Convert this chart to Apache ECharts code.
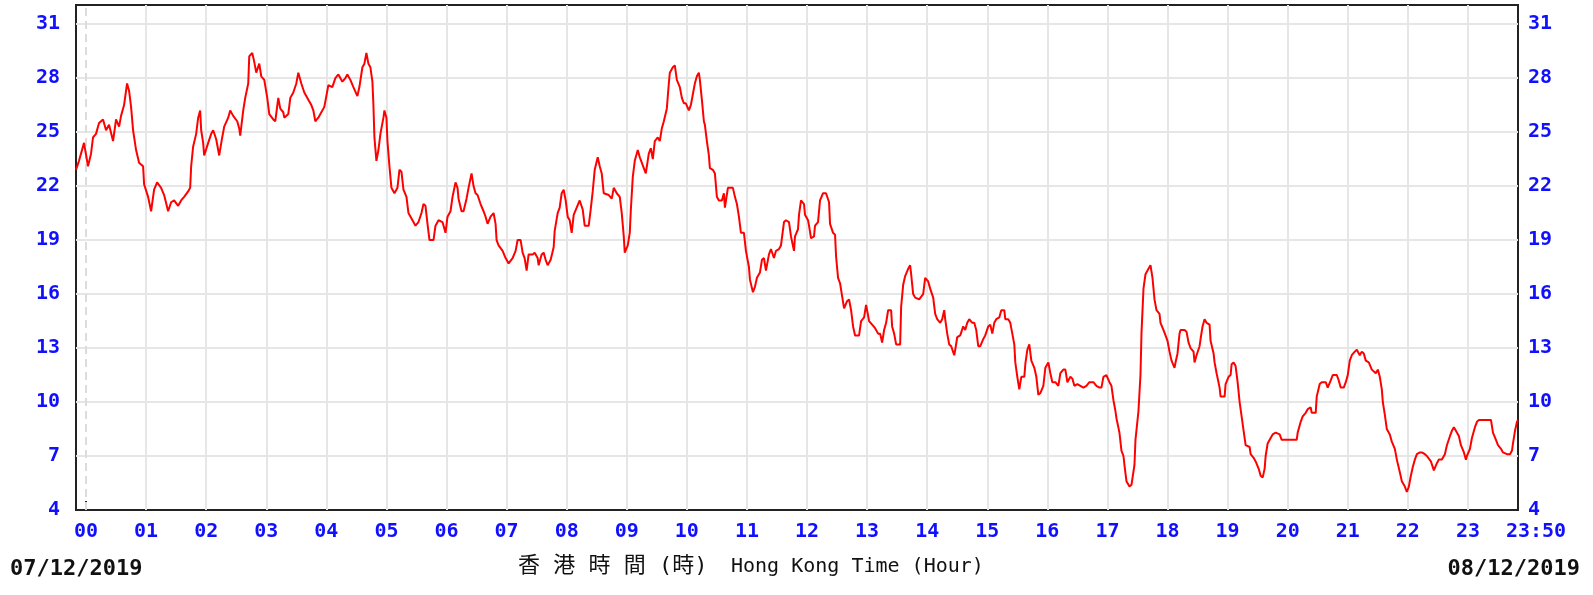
<!DOCTYPE html>
<html><head><meta charset="utf-8">
<script src="https://cdn.jsdelivr.net/npm/echarts@6/dist/echarts.min.js"></script>
<style>html,body{margin:0;padding:0;background:#fff}#c{width:1593px;height:595px}</style>
</head><body><div id="c"></div>
<script>
// minutes from 00:00 (07/12/2019)
const minutes = [-10,-7,-2,2,5,7,10,13,17,20,23,27,30,33,35,38,41,43,45,47,50,53,57,58,62,65,68,71,75,78,82,85,88,92,95,98,102,104,105,107,110,112,114,115,117,118,122,125,127,130,133,136,138,142,144,147,151,153,154,157,159,162,163,166,168,170,173,175,178,181,183,187,189,192,194,197,198,202,204,207,210,212,215,218,222,225,227,229,232,235,238,241,
242,246,249,252,256,259,261,264,267,271,273,276,278,280,282,284,286,287,288,290,292,294,297,298,300,301,303,305,308,311,313,315,317,320,322,326,329,332,335,337,339,341,343,347,349,352,356,359,361,364,366,369,371,372,375,377,380,382,385,387,389,391,394,397,399,401,404,407,409,410,412,416,419,422,426,429,431,434,436,438,440,442,446,448,451,452,455,457,459,461,464,467,468,471,473,475,477,479,481,
483,485,487,490,493,496,498,502,504,506,508,511,513,515,517,522,525,527,530,533,535,537,538,541,543,544,546,548,551,553,555,557,559,562,564,566,568,571,573,575,577,580,582,583,586,588,590,593,595,597,599,602,604,606,608,610,612,613,615,617,618,620,622,623,626,628,630,632,635,637,638,641,643,646,648,650,652,654,657,659,662,663,666,668,670,673,675,677,679,682,684,687,689,692,694,697,699,702,704,707,708,711,712,714,717,718,721,
722,724,727,728,731,733,736,739,742,743,746,748,749,751,753,755,757,760,762,764,766,768,772,774,777,779,782,785,788,791,793,795,797,799,801,804,805,807,809,813,814,816,818,821,823,824,826,828,832,833,836,838,841,843,846,848,850,853,855,857,858,860,862,864,867,868,870,873,876,878,880,882,885,887,889,891,893,896,898,901,903,905,907,909,912,914,917,918,921,923,925,927,928,930,932,934,937,938,940,942,944,947,949,951,953,956,958,961,
963,965,968,971,973,976,978,980,983,985,987,990,993,996,999,1002,1006,1009,1012,1014,1016,1019,1022,1024,1026,1028,1029,1032,1034,1036,1037,1039,1042,1044,1047,1048,1051,1053,1054,1056,1058,1061,1063,1065,1067,1069,1072,1073,1076,1078,1080,1082,1084,1087,1088,1090,1092,1093,1097,1099,1101,1103,1106,1107,1109,1112,1113,1115,1117,1119,1122,1123,1126,1127,1129,1132,1133,1137,1138,1141,1143,1144,1146,1148,1150,1152,1154,1156,1158,1162,1163,1166,1168,1171,1173,1175,1177,1178,1180,1183,1185,1188,1192,1194,1197,1201,
1203,1209,1210,1213,1215,1218,1220,1223,1224,1228,1229,1232,1234,1238,1240,1243,1245,1249,1251,1253,1256,1258,1260,1262,1264,1267,1269,1272,1274,1276,1278,1281,1284,1288,1290,1292,1294,1295,1297,1299,1302,1304,1307,1309,1312,1314,1317,1319,1321,1323,1325,1327,1329,1332,1334,1337,1339,1343,1346,1349,1351,1354,1357,1359,1362,1364,1366,1368,1371,1373,1376,1378,1379,1382,1384,1387,1389,1391,1396,1403,1405,1408,1410,1413,1415,1419,1422,1424,1425,1427,1429,1430];
const values = [22.9,23.4,24.4,23.1,23.8,24.7,24.9,25.5,25.7,25.1,25.4,24.5,25.7,25.3,25.9,26.5,27.7,27.3,26.4,25.1,24.0,23.3,23.1,22.1,21.4,20.6,21.8,22.2,21.9,21.5,20.6,21.1,21.2,20.9,21.2,21.4,21.7,21.9,23.1,24.2,24.9,25.8,26.2,25.1,24.4,23.7,24.4,24.9,25.1,24.6,23.7,24.7,25.3,25.8,26.2,25.9,25.6,25.2,24.8,26.2,26.9,27.7,29.2,29.4,28.9,28.3,28.8,28.1,27.9,26.9,26.0,25.7,25.6,26.9,26.3,26.1,25.8,26.0,26.9,27.2,27.7,28.3,27.7,27.2,26.8,26.5,26.2,25.6,25.8,26.1,26.4,27.3,
27.6,27.5,28.0,28.2,27.8,28.0,28.2,27.9,27.5,27.0,27.5,28.6,28.8,29.4,28.8,28.6,27.8,26.5,24.7,23.4,24.0,24.9,25.8,26.2,25.8,24.5,23.1,21.9,21.6,21.9,22.9,22.8,21.8,21.4,20.5,20.1,19.8,20.0,20.5,21.0,20.9,19.9,19.0,19.0,19.8,20.1,20.0,19.4,20.3,20.6,21.4,22.2,21.9,21.3,20.6,20.6,21.3,21.9,22.7,22.0,21.6,21.5,21.0,20.6,20.3,19.9,20.3,20.5,19.9,19.0,18.7,18.4,18.0,17.7,18.0,18.4,19.0,19.0,18.3,18.0,17.3,18.2,18.2,18.3,18.0,17.6,18.2,18.3,17.9,17.6,17.9,18.6,19.5,20.5,20.8,21.6,21.8,21.2,20.3,
20.1,19.4,20.4,20.8,21.2,20.7,19.8,19.8,20.7,21.7,22.9,23.6,23.1,22.7,21.6,21.5,21.3,21.9,21.6,21.4,20.5,19.2,18.3,18.7,19.4,20.6,22.5,23.4,24.0,23.6,23.3,23.0,22.7,23.8,24.1,23.5,24.5,24.7,24.5,25.2,25.6,26.3,27.7,28.3,28.6,28.7,27.9,27.5,26.9,26.6,26.6,26.2,26.5,27.1,27.7,28.1,28.3,27.9,26.8,25.6,25.4,24.5,23.7,23.0,22.9,22.7,21.4,21.2,21.2,21.6,20.8,21.9,21.9,21.9,21.4,21.0,20.3,19.4,19.4,18.4,17.5,16.8,16.1,16.4,16.9,17.2,17.9,18.0,17.3,18.2,18.5,18.0,18.4,18.5,18.7,20.0,20.1,20.0,19.2,18.4,19.2,19.6,20.4,21.2,21.0,20.4,20.1,
19.8,19.1,19.2,19.8,20.0,21.2,21.6,21.6,21.1,19.9,19.4,19.3,18.1,16.9,16.6,15.9,15.2,15.6,15.7,15.1,14.2,13.7,13.7,14.5,14.7,15.4,14.5,14.3,14.1,13.8,13.8,13.3,14.0,14.4,15.1,15.1,14.2,13.8,13.2,13.2,15.3,16.5,17.0,17.4,17.6,17.1,16.0,15.8,15.7,15.6,16.0,16.9,16.7,16.3,15.8,14.9,14.6,14.4,14.6,15.1,14.6,13.8,13.2,13.1,12.6,12.9,13.6,13.7,14.2,14.0,14.4,14.6,14.4,14.4,14.0,13.1,13.1,13.5,13.7,14.2,14.3,13.8,14.4,14.6,14.7,15.1,15.1,14.6,14.6,14.4,13.8,13.2,12.2,11.4,10.7,11.4,11.4,12.1,12.9,13.2,12.3,11.9,11.4,10.4,10.5,10.9,11.9,12.2,
11.6,11.1,11.1,10.9,11.6,11.8,11.8,11.1,11.4,11.3,10.9,11.0,10.9,10.8,10.9,11.1,11.1,10.9,10.8,10.8,11.4,11.5,11.1,10.9,10.1,9.5,9.1,8.3,7.3,7.0,6.5,5.6,5.3,5.4,6.5,7.9,9.5,11.5,13.8,16.3,17.1,17.4,17.6,16.9,15.7,15.1,14.9,14.4,14.0,13.7,13.4,12.8,12.3,11.9,12.2,12.7,13.8,14.0,14.0,13.9,13.3,13.0,12.8,12.2,12.6,13.1,13.5,14.2,14.6,14.4,14.3,13.4,12.7,12.2,11.6,10.8,10.3,10.3,11.0,11.4,11.5,12.1,12.2,12.0,11.1,10.0,9.2,8.4,7.6,7.5,7.1,6.9,6.7,6.3,5.9,5.8,6.3,7.0,7.7,8.0,8.2,8.3,8.2,7.9,7.9,7.9,
7.9,7.9,8.3,8.9,9.2,9.4,9.6,9.7,9.4,9.4,10.3,11.0,11.1,11.1,10.8,11.2,11.5,11.5,11.2,10.8,10.8,11.1,11.5,12.3,12.6,12.8,12.9,12.6,12.8,12.7,12.3,12.2,11.8,11.6,11.8,11.4,10.7,10.0,9.3,8.5,8.2,7.8,7.4,6.8,6.1,5.6,5.3,5.0,5.3,5.9,6.4,6.8,7.1,7.2,7.2,7.1,7.0,6.7,6.2,6.6,6.8,6.8,7.1,7.6,8.1,8.4,8.6,8.4,8.1,7.6,7.2,6.8,7.0,7.4,8.0,8.6,8.9,9.0,9.0,9.0,8.3,7.9,7.6,7.4,7.2,7.1,7.1,7.3,7.7,8.4,8.9,9.0];

const hourTicks = [0,60,120,180,240,300,360,420,480,540,600,660,720,780,840,900,960,1020,1080,1140,1200,1260,1320,1380];
const xLabelValues = hourTicks.concat([1430]);
const xLabels = ['00','01','02','03','04','05','06','07','08','09','10','11','12','13','14','15','16','17','18','19','20','21','22','23','23:50'];
const yTicks = [4,7,10,13,16,19,22,25,28,31];
const midnight = [0];
const dateStart = '07/12/2019';
const dateEnd = '08/12/2019';
const axisTitleCn = '香 港 時 間 (時)';
const axisTitleEn = 'Hong Kong Time (Hour)';

const X_MIN = -10, X_MAX = 1430, Y_MIN = 4, Y_MAX = 32.06;
const BLUE = '#1010ff';
const lblFont = {fontFamily: 'DejaVu Sans Mono', fontWeight: 'bold', fontSize: 20, color: BLUE};

const chart = echarts.init(document.getElementById('c'), null, {renderer: 'canvas'});
const pts = minutes.map((m, i) => [m, values[i]]);

const gridLines = hourTicks.slice(1).map(v => ({xAxis: v}))
  .concat(yTicks.slice(1).map(v => ({yAxis: v})));

function yAxisDef(pos, margin) {
  return {
    type: 'value', position: pos, min: Y_MIN, max: Y_MAX,
    axisLine: {show: true, onZero: false, lineStyle: {color: '#222', width: 2}},
    axisTick: {show: true, inside: true, length: 9, customValues: yTicks, lineStyle: {color: '#222', width: 2}},
    axisLabel: Object.assign({customValues: yTicks, margin: margin}, lblFont),
    splitLine: {show: false}
  };
}

chart.setOption({
  animation: false,
  backgroundColor: '#fff',
  grid: {left: 76, right: 75, top: 5, bottom: 85, show: true, borderColor: '#222', borderWidth: 2, backgroundColor: '#fff', containLabel: false},
  xAxis: {
    type: 'value', min: X_MIN, max: X_MAX,
    axisLine: {show: true, onZero: false, lineStyle: {color: '#222', width: 2}},
    axisTick: {show: true, inside: true, length: 9, customValues: hourTicks, lineStyle: {color: '#222', width: 2}},
    axisLabel: Object.assign({
      customValues: xLabelValues, margin: 12,
      formatter: v => {
        const i = xLabelValues.indexOf(v);
        const t = i >= 0 ? xLabels[i] : '';
        return v === 1430 ? '{e|' + t + '}' : t;
      },
      rich: {e: Object.assign({padding: [0, 0, 0, 36]}, lblFont)}
    }, lblFont),
    splitLine: {show: false}
  },
  yAxis: [yAxisDef('left', 16), yAxisDef('right', 10)],
  series: [
    {
      type: 'line', data: [], z: 1, silent: true,
      markLine: {
        silent: true, symbol: 'none', animation: false, z: 1,
        label: {show: false},
        lineStyle: {color: '#e6e6e6', width: 2, type: 'solid'},
        data: gridLines
      }
    },
    {
      type: 'line', data: [], z: 1, silent: true,
      markLine: {
        silent: true, symbol: 'none', animation: false, z: 1,
        label: {show: false},
        lineStyle: {color: '#dcdcdc', width: 2, type: [8, 5]},
        data: midnight.map(v => ({xAxis: v}))
      }
    },
    {
      type: 'line', data: pts, z: 10, showSymbol: false, symbol: 'none',
      lineStyle: {color: '#ff0000', width: 2}, itemStyle: {color: '#ff0000'}
    }
  ],
  graphic: [
    {type: 'text', left: 10, top: 558, style: {text: dateStart, font: 'bold 22px "DejaVu Sans Mono"', fill: '#111'}},
    {type: 'text', right: 13, top: 558, style: {text: dateEnd, font: 'bold 22px "DejaVu Sans Mono"', fill: '#111'}},
    {type: 'text', left: 518, top: 555, style: {text: axisTitleCn, font: '22px "DejaVu Sans Mono", "Noto Sans CJK TC"', fill: '#111'}},
    {type: 'text', left: 731, top: 557, style: {text: axisTitleEn, font: '20px "DejaVu Sans Mono"', fill: '#111'}}
  ]
});
</script></body></html>
